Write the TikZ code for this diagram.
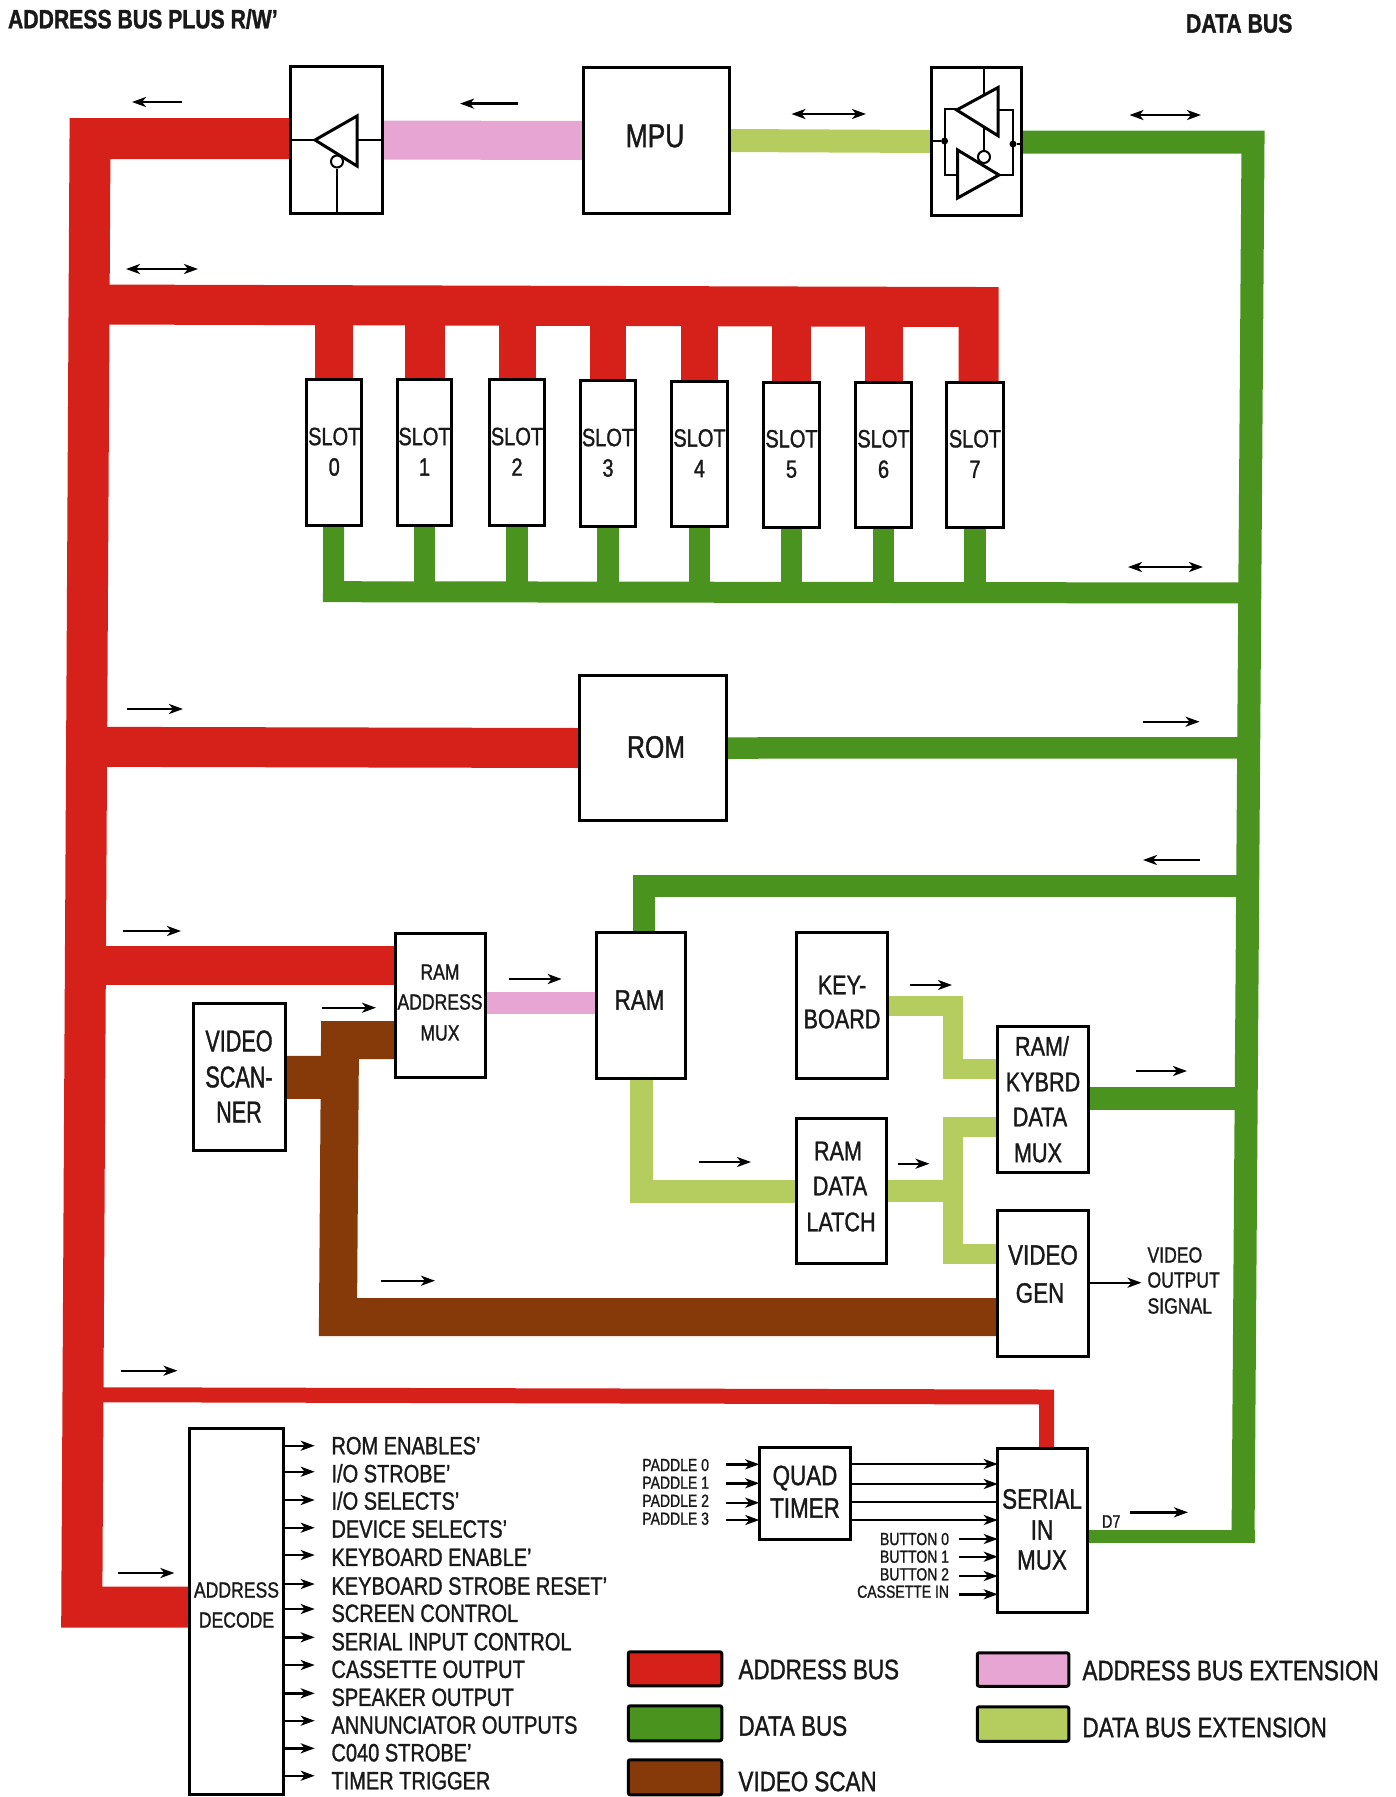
\documentclass[tikz,border=0pt]{standalone}
\usepackage{fontspec}
\usetikzlibrary{arrows.meta,calc}
\setmainfont[FakeStretch=0.80,FakeBold=1.2]{Liberation Sans}
\newfontfamily\condf[FakeStretch=0.72,FakeBold=1.2]{Liberation Sans}
\newcommand\fsz[1]{\fontsize{#1}{#1}\selectfont}
\definecolor{busred}{HTML}{D6201A}
\definecolor{busgreen}{HTML}{4B931F}
\definecolor{buslime}{HTML}{B4CD5E}
\definecolor{buspink}{HTML}{E6A5D3}
\definecolor{busbrown}{HTML}{863A0A}
\pgfdeclarelayer{bus}
\pgfsetlayers{bus,main}
\tikzset{
  box/.style={draw=black,line width=3pt,fill=white,inner sep=0pt,outer sep=0pt},
  swatch/.style={draw=black,line width=3pt,inner sep=0pt,outer sep=0pt,rounded corners=2pt},
  lbl/.style={inner sep=0pt,outer sep=0pt,text=black!90},
  redbus/.style={draw=busred,line cap=butt,line join=miter},
  greenbus/.style={draw=busgreen,line cap=butt,line join=miter},
  limebus/.style={draw=buslime,line cap=butt,line join=miter},
  pinkbus/.style={draw=buspink,line cap=butt,line join=miter},
  brownbus/.style={draw=busbrown,line cap=butt,line join=miter},
  gate/.style={draw=black,line width=3pt,line join=miter},
  wire/.style={draw=black,line width=2pt},
  flow/.style={draw=black,line width=2.4pt,-{Stealth[length=14pt,width=10pt,inset=4pt]}},
  flowboth/.style={draw=black,line width=2.4pt,{Stealth[length=14pt,width=10pt,inset=4pt]}-{Stealth[length=14pt,width=10pt,inset=4pt]}},
  dotj/.style={circle,fill=black,inner sep=0pt,minimum size=7pt},
}
\newcommand\boxat[6][box]{\node[#1,minimum width=\the\dimexpr #5pt-#3pt-1.5pt\relax,minimum height=\the\dimexpr #6pt-#4pt-1.5pt\relax] (#2) at ({(#3+#5)/2},{(#4+#6)/2}) {};}
\begin{document}
\begin{tikzpicture}[x=1pt,y=-1pt]
\useasboundingbox (0,0) rectangle (1396,1797);
% ---- headings
\node[lbl,anchor=west,font=\fsz{26.5}\bfseries] (hAddr) at (8,19) {ADDRESS BUS PLUS R/W'};
\node[lbl,anchor=west,font=\fsz{26.5}\bfseries] (hData) at (1186,23.5) {DATA BUS};
% ---- boxes
\boxat{buf}{290}{66}{383}{214}
\boxat{mpu}{583}{67}{730}{214}
\boxat{trans}{931}{67}{1022}{216}
\foreach \i/\xa/\xb/\ya/\yb in {0/306/362.5/379/526,1/397/452/379/526,2/489/545/379/526,3/580/636/380/527,4/671/728/381/527,5/763/820/381.5/528,6/855/912/381.5/528,7/946/1004/381.5/528}{
  \boxat{slot\i}{\xa}{\ya}{\xb}{\yb}
  \node[lbl,font=\fsz{25}] (slottext\i) at ([yshift=16pt]slot\i.center) {SLOT};
  \node[lbl,font=\fsz{25}] (slotnum\i) at ([yshift=-14.5pt]slot\i.center) {\i};
}
\boxat{rom}{579}{675}{727}{821}
\boxat{ramaddr}{394.5}{933}{486.5}{1078}
\boxat{ram}{596}{932}{686}{1079}
\boxat{scan}{193}{1003}{286.5}{1151.5}
\boxat{kb}{796}{932}{888.5}{1079}
\boxat{mux}{997}{1026}{1089.5}{1173}
\boxat{latch}{795.5}{1118}{887}{1264}
\boxat{vgen}{996.5}{1210}{1089}{1357}
\boxat{dec}{189}{1428}{284}{1795}
\boxat{timer}{758.5}{1447}{851}{1540}
\boxat{serial}{997}{1448}{1088}{1613}
% ---- box texts
\node[lbl,font=\fsz{33}] (tMPU) at (655,136) {MPU};
\node[lbl,font=\fsz{31}] (tROM) at (656,747) {ROM};
\node[lbl,font=\fsz{22}] (tRA1) at (440,972) {RAM};
\node[lbl,font=\fsz{22}] (tRA2) at (440,1002) {ADDRESS};
\node[lbl,font=\fsz{22}] (tRA3) at (440,1033) {MUX};
\node[lbl,font=\fsz{28}] (tRAM) at (639.5,1000) {RAM};
\node[lbl,font=\condf\fsz{30}] (tVS1) at (239,1041) {VIDEO};
\node[lbl,font=\condf\fsz{30}] (tVS2) at (239,1077) {SCAN-};
\node[lbl,font=\condf\fsz{30}] (tVS3) at (239,1112) {NER};
\node[lbl,font=\fsz{27}] (tKB1) at (842,985) {KEY-};
\node[lbl,font=\fsz{27}] (tKB2) at (842,1019) {BOARD};
\node[lbl,font=\fsz{27}] (tMX1) at (1042,1046) {RAM/};
\node[lbl,font=\fsz{27}] (tMX2) at (1043,1082) {KYBRD};
\node[lbl,font=\fsz{27}] (tMX3) at (1040,1117) {DATA};
\node[lbl,font=\fsz{27}] (tMX4) at (1038,1153) {MUX};
\node[lbl,font=\fsz{27}] (tLT1) at (838,1151) {RAM};
\node[lbl,font=\fsz{27}] (tLT2) at (840,1186) {DATA};
\node[lbl,font=\fsz{27}] (tLT3) at (841,1222) {LATCH};
\node[lbl,font=\fsz{28}] (tVG1) at (1043,1255) {VIDEO};
\node[lbl,font=\fsz{28}] (tVG2) at (1040,1293) {GEN};
\node[lbl,font=\fsz{22}] (tAD1) at (236.5,1590) {ADDRESS};
\node[lbl,font=\fsz{22}] (tAD2) at (236.5,1620) {DECODE};
\node[lbl,font=\fsz{28}] (tQT1) at (805,1478) {QUAD};
\node[lbl,font=\fsz{28}] (tQT2) at (805,1508) {TIMER};
\node[lbl,font=\fsz{28}] (tSM1) at (1042,1499) {SERIAL};
\node[lbl,font=\fsz{28}] (tSM2) at (1042,1530) {IN};
\node[lbl,font=\fsz{28}] (tSM3) at (1042,1560) {MUX};
\node[lbl,anchor=west,font=\fsz{22}] (tVO1) at (1147.5,1255) {VIDEO};
\node[lbl,anchor=west,font=\fsz{22}] (tVO2) at (1147.5,1280) {OUTPUT};
\node[lbl,anchor=west,font=\fsz{22}] (tVO3) at (1147.5,1306) {SIGNAL};
\node[lbl,anchor=west,font=\fsz{18}] (tD7) at (1102,1521.5) {D7};
% ---- buses, under the boxes
\begin{pgfonlayer}{bus}
% address bus spine with top and address decode ends
\draw[redbus,line width=41pt] (buf.west |- 0,138.5) -- (90,138.5) -- (81.8,1607) -- (dec.west |- 0,1607);
\draw[redbus,line width=40pt] (88,304.5) -- (978.5,307) -- (slot7.north -| 978.5,0);
\foreach \i/\w in {0/38,1/40,2/37,3/36,4/37,5/39,6/38}{
  \draw[redbus,line width=\w pt] (slot\i.north) -- (slot\i.north |- 0,306);
}
\draw[redbus,line width=40pt] (85,746.8) -- (rom.west);
\draw[redbus,line width=39pt] (85,965.5) -- (ramaddr.west |- 0,965.5);
\draw[redbus,line width=15pt] (84,1394.7) -- (1046.5,1397) -- (serial.north -| 1046.5,0);
\draw[pinkbus,line width=39pt] (mpu.west) -- (buf.east);
\draw[pinkbus,line width=21.5pt] (ramaddr.east |- 0,1003) -- (ram.west |- 0,1003);
% data bus
\draw[limebus,line width=23pt] (mpu.east) -- (trans.west);
\draw[greenbus,line width=23pt] (trans.east |- 0,142) -- (1253,142) -- (1243,1542.7);
\draw[greenbus,line width=21pt] ([xshift=-0.5pt]slot0.south) -- (333.5,591.7) -- (1250,593);
\foreach \i in {1,...,7}{
  \draw[greenbus,line width=21.5pt] (slot\i.south) -- (slot\i.south |- 0,592);
}
\draw[greenbus,line width=21.5pt] (rom.east) -- (1248,747.8);
\draw[greenbus,line width=22pt] ([xshift=2.5pt]ram.north) -- (643.5,886) -- (1247,886);
\draw[greenbus,line width=23pt] (mux.east |- 0,1098) -- (1246,1098);
\draw[greenbus,line width=13pt] (serial.east |- 0,1536) -- (1255,1536);
% data bus extension
\draw[limebus,line width=23pt] (ram.south) |- (latch.west);
\draw[limebus,line width=22pt] (latch.east) -- (953,1190.8);
\draw[limebus,line width=20pt] (mux.west |- 0,1127) -- (953,1127) -- (953,1253.7) -- (vgen.west |- 0,1253.7);
\draw[limebus,line width=20pt] (kb.east) -- (953,1005.5) -- (953,1069) -- (mux.west |- 0,1069);
% video scan
\draw[brownbus,line width=43pt] (scan.east) -- (340,1077.3);
\draw[brownbus,line width=38pt] (ramaddr.west |- 0,1040) -- (340,1040) -- (338,1317) -- (vgen.west |- 0,1317);
\end{pgfonlayer}
% ---- gates
\draw[gate] (315,140) -- (357,116) -- (357,166) -- cycle;
\draw[wire] (buf.west |- 0,140) -- (315,140);
\draw[wire] (357,140) -- (buf.east |- 0,140);
\node[circle,draw=black,line width=2pt,fill=white,minimum size=12pt,inner sep=0pt] (bufc) at (337,161.5) {};
\draw[wire] (bufc.south) -- (buf.south -| bufc.south);
\draw[gate] (956.7,110) -- (998,87.5) -- (998,135.7) -- cycle;
\draw[gate] (999,175) -- (957.6,150) -- (957.6,198) -- cycle;
\draw[wire] (956.7,108.5) -- (944.6,108.5) -- (944.6,174.5) -- (957.6,174.5);
\draw[wire] (998,110) -- (1013.4,110) -- (1013.4,175) -- (999,175);
\node[dotj] (dl) at (944.6,141) {};
\node[dotj] (dr) at (1013,144) {};
\draw[wire] (trans.west |- dl) -- (dl);
\draw[wire] (dr) -- (trans.east |- dr);
\node[circle,draw=black,line width=2pt,fill=white,minimum size=12pt,inner sep=0pt] (trc) at (984,157) {};
\draw[wire] (trans.north -| trc.north) -- (984,95);
\draw[wire] (984,127.5) -- (trc.north);
% ---- direction arrows
\draw[flow] (182,102) -- (132,102);
\draw[flow] (518,103.6) -- (460,103.6);
\draw[flowboth] (791.5,114) -- (866,114);
\draw[flowboth] (1129.5,115) -- (1201,115);
\draw[flowboth] (126,269) -- (198,269);
\draw[flowboth] (1128,567) -- (1203,567);
\draw[flow] (127,709) -- (183,709);
\draw[flow] (1143,721.7) -- (1199.6,721.7);
\draw[flow] (1199.6,860) -- (1143,860);
\draw[flow] (123,931) -- (181,931);
\draw[flow] (509,979) -- (561.7,979);
\draw[flow] (322,1007.7) -- (376,1007.7);
\draw[flow] (909.5,985) -- (952,985);
\draw[flow] (1136,1071) -- (1187,1071);
\draw[flow] (698.8,1162) -- (751,1162);
\draw[flow] (897.5,1163.7) -- (929.5,1163.7);
\draw[flow] (381.4,1280.7) -- (435,1280.7);
\draw[flow] (121,1370.7) -- (177.5,1370.7);
\draw[flow] (118,1573) -- (174.4,1573);
\draw[flow] (1130,1512.3) -- (1188,1512.3);
\coordinate (voEnd) at (1141.5,1282.7);
\draw[flow] (vgen.east |- voEnd) -- (voEnd);
% ---- address decode outputs
\foreach \n/\ay/\ly/\t in {
  a/1445.7/1445.7/{ROM ENABLES'},
  b/1471.7/1473.3/{I/O STROBE'},
  c/1500/1500.7/{I/O SELECTS'},
  d/1527.7/1529/{DEVICE SELECTS'},
  e/1555/1557.3/{KEYBOARD ENABLE'},
  f/1584/1586/{KEYBOARD STROBE RESET'},
  g/1609/1613.3/{SCREEN CONTROL},
  h/1637.3/1641.7/{SERIAL INPUT CONTROL},
  i/1665/1669.3/{CASSETTE OUTPUT},
  j/1693.3/1697.3/{SPEAKER OUTPUT},
  k/1720.7/1725/{ANNUNCIATOR OUTPUTS},
  l/1748.3/1752.7/{C040 STROBE'},
  m/1775.7/1780.7/{TIMER TRIGGER}}{
  \node[lbl,anchor=west,font=\fsz{25}] (out\n) at (331.5,\ly) {\t};
  \draw[flow] (dec.east |- 0,\ay) -- (314.7,\ay);
}
% ---- quad timer and serial mux
\foreach \n/\ay/\ly/\t in {0/1464.3/1465/PADDLE 0,1/1483.3/1482.7/PADDLE 1,2/1502.7/1500.7/PADDLE 2,3/1520/1518.7/PADDLE 3}{
  \node[lbl,anchor=east,font=\fsz{17.5}] (pad\n) at (709,\ly) {\t};
  \draw[flow] (726.4,\ay) -- (timer.west |- 0,\ay);
}
\draw[flow] (timer.east |- 0,1464) -- (serial.west |- 0,1464);
\draw[flow] (timer.east |- 0,1484) -- (serial.west |- 0,1484);
\draw[wire] (timer.east |- 0,1502) -- (serial.west |- 0,1502);
\draw[flow] (timer.east |- 0,1520) -- (serial.west |- 0,1520);
\foreach \n/\ay/\ly/\t in {0/1539/1539/BUTTON 0,1/1556.7/1556.7/BUTTON 1,2/1576/1574.3/BUTTON 2,3/1594.3/1591.7/CASSETTE IN}{
  \node[lbl,anchor=east,font=\fsz{17.5}] (btn\n) at (949,\ly) {\t};
  \draw[flow] (959,\ay) -- (serial.west |- 0,\ay);
}
% ---- legend
\boxat[swatch,fill=busred]{lgA}{627.5}{1651}{722.5}{1686.5}
\boxat[swatch,fill=busgreen]{lgB}{627.5}{1705}{722.5}{1741.5}
\boxat[swatch,fill=busbrown]{lgC}{627.5}{1759}{722.5}{1795.5}
\boxat[swatch,fill=buspink]{lgD}{976.5}{1652}{1069.5}{1687}
\boxat[swatch,fill=buslime]{lgE}{976.5}{1706}{1069.5}{1742}
\node[lbl,anchor=west,font=\fsz{28}] (lgtA) at (738.5,1669.5) {ADDRESS BUS};
\node[lbl,anchor=west,font=\fsz{28}] (lgtB) at (738.5,1726) {DATA BUS};
\node[lbl,anchor=west,font=\fsz{28}] (lgtC) at (738.5,1781.5) {VIDEO SCAN};
\node[lbl,anchor=west,font=\fsz{28}] (lgtD) at (1082.5,1670.5) {ADDRESS BUS EXTENSION};
\node[lbl,anchor=west,font=\fsz{28}] (lgtE) at (1082.5,1727.5) {DATA BUS EXTENSION};
\end{tikzpicture}
\end{document}
